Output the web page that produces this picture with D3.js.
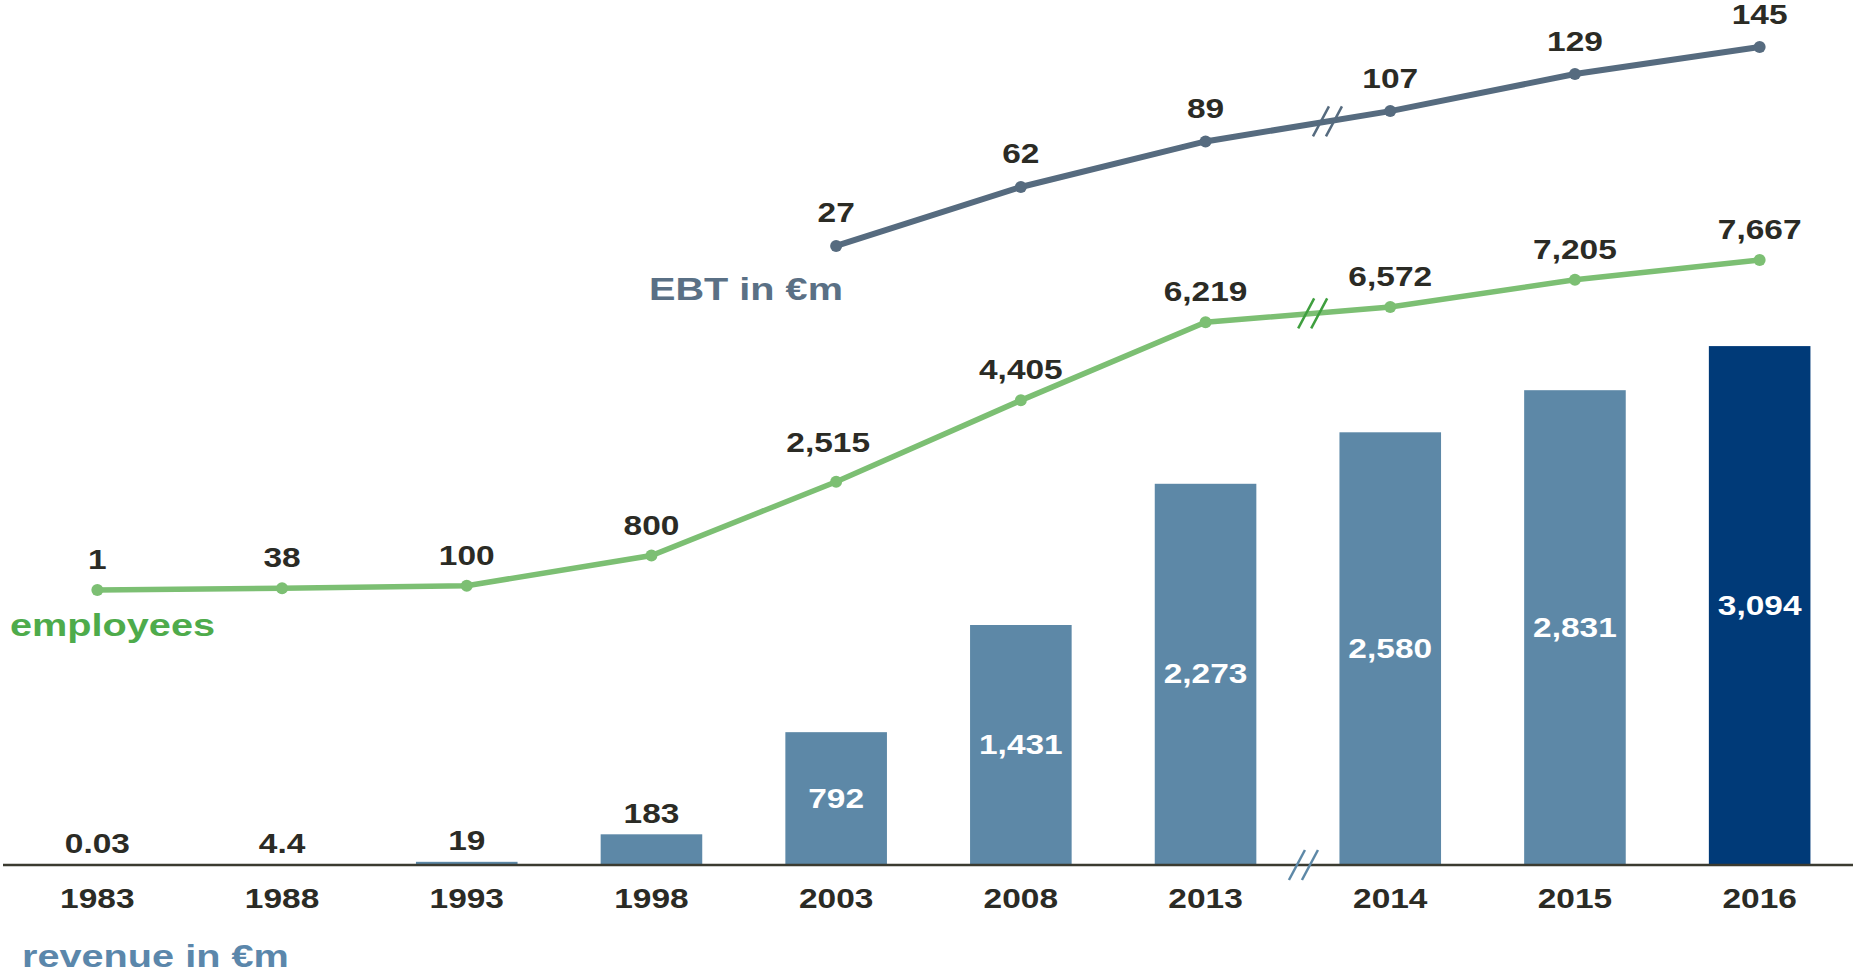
<!DOCTYPE html>
<html>
<head>
<meta charset="utf-8">
<script src="https://cdn.jsdelivr.net/npm/d3@7"></script>
<style>
  body { margin: 0; background: #fff; }
  svg text { font-family: "Liberation Sans", Arial, sans-serif; font-weight: bold; }
</style>
</head>
<body>
<svg id="chart"></svg>
<script>
/* CONSTANTS AND GLOBALS */
const width = 1853,
  height = 973;

// data
const years = ["1983", "1988", "1993", "1998", "2003", "2008", "2013", "2014", "2015", "2016"];
const revenue = [0.03, 4.4, 19, 183, 792, 1431, 2273, 2580, 2831, 3094];
const revenueLabels = ["0.03", "4.4", "19", "183", "792", "1,431", "2,273", "2,580", "2,831", "3,094"];
const employees = [1, 38, 100, 800, 2515, 4405, 6219, 6572, 7205, 7667];
const employeeLabels = ["1", "38", "100", "800", "2,515", "4,405", "6,219", "6,572", "7,205", "7,667"];
const ebt = [null, null, null, null, 27, 62, 89, 107, 129, 145];
const breakAfter = "2013"; // axis break between 2013 and 2014

// colours
const textDark = "#2b2b25",
  barColor = "#5d88a7",
  lastBarColor = "#003a78",
  empLine = "#7cbf73",
  empText = "#4eab4b",
  empBreak = "#3f9f3f",
  ebtLine = "#566b7f",
  ebtText = "#5a7085",
  revText = "#5b87ab";

const SX = 1.24; // the original text is stretched sideways

const svg = d3.select("#chart")
  .attr("width", width)
  .attr("height", height);

// scales
const x = d3.scaleBand()
  .domain(years)
  .range([5, 1852])
  .paddingInner(0.45)
  .paddingOuter(0.225);

const yBar = d3.scaleLinear().domain([0, 3500]).range([865, 278]);
const yEmp = d3.scaleLinear().domain([0, 10000]).range([590, 159.5]);
const yEbt = d3.scaleLinear().domain([0, 150]).range([291.5, 38.6]);

const cx = d => x(d) + x.bandwidth() / 2;

function label(g, tx, ty, txt, size, color, anchor) {
  return g.append("text")
    .attr("transform", `translate(${tx},${ty}) scale(${SX},1)`)
    .attr("text-anchor", anchor || "middle")
    .attr("font-size", size)
    .attr("fill", color)
    .text(txt);
}

// bars
const barData = years.map((y, i) => ({ year: y, value: revenue[i], label: revenueLabels[i] }));

svg.append("g")
  .selectAll("rect")
  .data(barData)
  .join("rect")
    .attr("x", d => x(d.year))
    .attr("y", d => yBar(d.value))
    .attr("width", x.bandwidth())
    .attr("height", d => yBar(0) - yBar(d.value))
    .attr("fill", (d, i) => i === years.length - 1 ? lastBarColor : barColor);

const barLabels = svg.append("g");
barData.forEach(d => {
  const h = yBar(0) - yBar(d.value);
  if (h > 60) {
    label(barLabels, cx(d.year), yBar(d.value) + h / 2 + 9, d.label, 27, "#ffffff");
  } else {
    label(barLabels, cx(d.year), yBar(d.value) - 11.5, d.label, 27, textDark);
  }
});

// x axis
const xAxis = svg.append("g")
  .attr("transform", "translate(0,865)")
  .call(d3.axisBottom(x).tickSize(0).tickSizeOuter(0).tickPadding(24));

xAxis.select(".domain")
  .attr("d", "M3,0H1853")
  .attr("stroke", "#3b3b30")
  .attr("stroke-width", 2.5);

xAxis.selectAll("text")
  .attr("transform", `scale(${SX},1)`)
  .attr("font-size", 27)
  .attr("fill", textDark);

// employees line
const empData = years.map((y, i) => ({ year: y, value: employees[i], label: employeeLabels[i] }));
const empGen = d3.line().x(d => cx(d.year)).y(d => yEmp(d.value));

svg.append("path")
  .datum(empData)
  .attr("d", empGen)
  .attr("fill", "none")
  .attr("stroke", empLine)
  .attr("stroke-width", 5.5);

svg.append("g")
  .selectAll("circle")
  .data(empData)
  .join("circle")
    .attr("cx", d => cx(d.year))
    .attr("cy", d => yEmp(d.value))
    .attr("r", 6)
    .attr("fill", empLine);

// the 2003 label sits a little higher and to the left in the original
const empNudge = { "2003": [-8, -9] };
const empLabels = svg.append("g");
empData.forEach(d => {
  const n = empNudge[d.year] || [0, 0];
  label(empLabels, cx(d.year) + n[0], yEmp(d.value) - 21 + n[1], d.label, 27, textDark);
});

// EBT line
const ebtData = years.map((y, i) => ({ year: y, value: ebt[i] })).filter(d => d.value !== null);
const ebtGen = d3.line().x(d => cx(d.year)).y(d => yEbt(d.value));

svg.append("path")
  .datum(ebtData)
  .attr("d", ebtGen)
  .attr("fill", "none")
  .attr("stroke", ebtLine)
  .attr("stroke-width", 6);

svg.append("g")
  .selectAll("circle")
  .data(ebtData)
  .join("circle")
    .attr("cx", d => cx(d.year))
    .attr("cy", d => yEbt(d.value))
    .attr("r", 6)
    .attr("fill", ebtLine);

const ebtLabels = svg.append("g");
ebtData.forEach(d => label(ebtLabels, cx(d.year), yEbt(d.value) - 23.5, d.value, 27, textDark));

// break marks "//" between 2013 and 2014
const iB = years.indexOf(breakAfter);
const x0 = cx(years[iB]), x1 = cx(years[iB + 1]);

function breakMark(t, y0, y1, color) {
  const bx = x0 + (x1 - x0) * t;
  const by = y0 + (y1 - y0) * t;
  [-6.5, 6.5].forEach(off => {
    svg.append("line")
      .attr("x1", bx + off - 8)
      .attr("y1", by + 15)
      .attr("x2", bx + off + 8)
      .attr("y2", by - 15)
      .attr("stroke", color)
      .attr("stroke-width", 2.5);
  });
}

breakMark(0.66, yEbt(ebt[iB]), yEbt(ebt[iB + 1]), ebtLine);
breakMark(0.58, yEmp(employees[iB]), yEmp(employees[iB + 1]), empBreak);
breakMark(0.53, yBar(0), yBar(0), barColor);

// series titles
const titles = svg.append("g");
label(titles, 649, 300, "EBT in €m", 32, ebtText, "start");
label(titles, 10, 636, "employees", 32, empText, "start");
label(titles, 22, 967, "revenue in €m", 32, revText, "start");
</script>
</body>
</html>
